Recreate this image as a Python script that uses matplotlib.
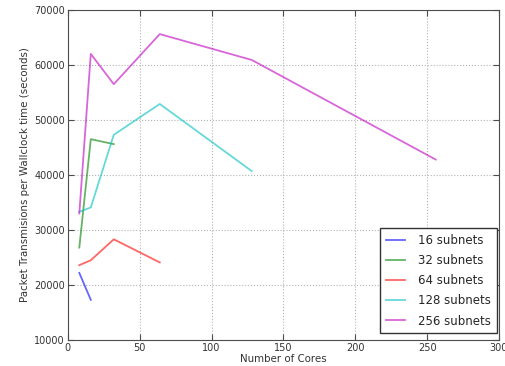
import matplotlib
matplotlib.use("Agg")
import matplotlib.pyplot as plt

cores_16 = [8, 16]
vals_16 = [22200, 17300]
cores_32 = [8, 16, 32]
vals_32 = [26800, 46500, 45600]
cores_64 = [8, 16, 32, 64]
vals_64 = [23600, 24500, 28300, 24100]
cores_128 = [8, 16, 32, 64, 128]
vals_128 = [33300, 34100, 47300, 52900, 40700]
cores_256 = [8, 16, 32, 64, 128, 256]
vals_256 = [33000, 62000, 56500, 65600, 60900, 42800]

series = [("16 subnets", cores_16, vals_16, "b"),
          ("32 subnets", cores_32, vals_32, "g"),
          ("64 subnets", cores_64, vals_64, "r"),
          ("128 subnets", cores_128, vals_128, "c"),
          ("256 subnets", cores_256, vals_256, "m")]

fig = plt.figure(figsize=(5.06, 3.66), dpi=100)
ax = fig.add_axes([0.134, 0.071, 0.852, 0.902])
for lab, x, y, c in series:
    ax.plot(x, y, color=c, alpha=0.6, lw=1.3, label=lab)

ax.set_xlim(0, 300)
ax.set_ylim(10000, 70000)
ax.set_xticks(range(0, 301, 50))
ax.set_yticks(range(10000, 70001, 10000))
ax.grid(True, color="0.7", ls=":", lw=0.8)
ax.tick_params(direction="in", labelsize=7, length=4, top=True, right=True, pad=2,
               colors="0.3", labelcolor="0.2")
ax.set_xlabel("Number of Cores", fontsize=7.4, labelpad=1, color="0.2")
ax.set_ylabel("Packet Transmisions per Wallclock time (seconds)", fontsize=7.4,
              labelpad=3, color="0.2")
for s in ax.spines.values():
    s.set_color("0.3")
leg = ax.legend(loc="lower right", bbox_to_anchor=(0.995, 0.02), borderaxespad=0,
                fontsize=8.5, fancybox=False, framealpha=1, edgecolor="0.2",
                handlelength=1.6, handletextpad=1.1, labelspacing=0.6, borderpad=0.5)
leg.get_frame().set_linewidth(1.0)
for t in leg.get_texts():
    t.set_color("0.15")
fig.savefig("out.png", dpi=100)
